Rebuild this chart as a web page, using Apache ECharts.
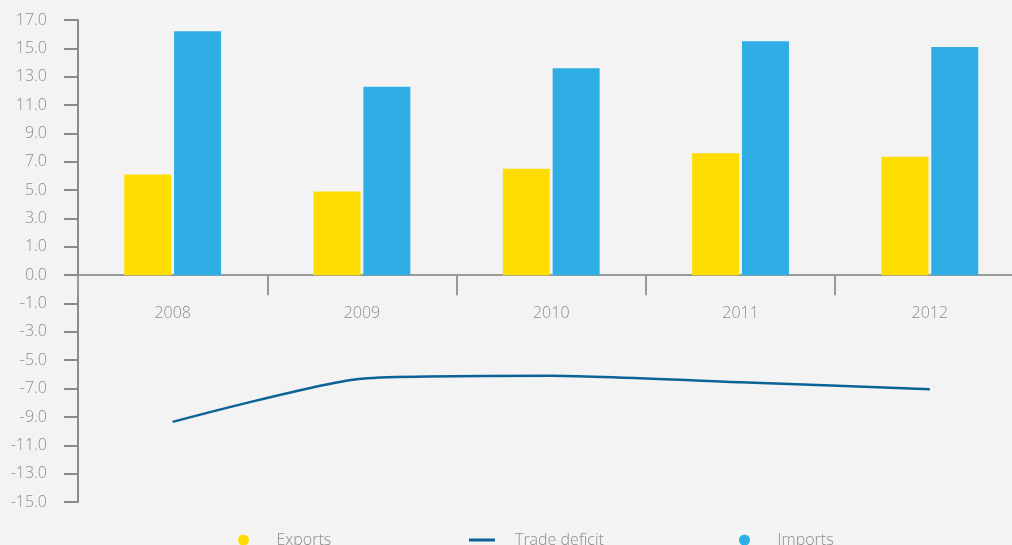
<!DOCTYPE html>
<html>
<head>
<meta charset="utf-8">
<script src="https://cdn.jsdelivr.net/npm/echarts@6/dist/echarts.min.js"></script>
<style>
html,body{margin:0;padding:0;background:#f3f3f3;overflow:hidden;width:1012px;height:545px;}
#c{width:1025px;height:545px;}
</style>
</head>
<body>
<div id="c"></div>
<script>
// Values as read against the printed tick labels
const years = ['2008', '2009', '2010', '2011', '2012'];
const exportsVals = [6.1, 4.9, 6.5, 7.6, 7.35];
const importsVals = [16.2, 12.3, 13.6, 15.5, 15.1];
const deficitVals = [-9.35, -6.3, -6.1, -6.55, -7.05];

// The printed labels skip a step around zero: 17,15,...,1,0,-1,...,-15 on an evenly spaced axis.
// Map a label-space value onto the evenly spaced axis.
function toAxis(v) {
  if (v >= 1) return v + 1;
  if (v <= -1) return v - 1;
  return v * 2;
}
function labelOf(v) {
  if (v > 0) return (v - 1).toFixed(1);
  if (v < 0) return (v + 1).toFixed(1);
  return '0.0';
}

const FONT = '"Open Sans", "Noto Sans", sans-serif';
const TXT = '#8c8c8c';
const AX = '#999999';
const Y_MIN = -16, Y_MAX = 18;
const GRID_TOP = 20, GRID_H = 482;
const zeroOffset = -GRID_H * (0 - Y_MIN) / (Y_MAX - Y_MIN);

const chart = echarts.init(document.getElementById('c'), null, {renderer: 'canvas'});

function legend(name, left, icon, w, h, color) {
  return {
    data: [{name: name, icon: icon, itemStyle: {color: color}}],
    left: left, top: 525,
    itemWidth: w, itemHeight: h,
    selectedMode: false,
    textStyle: {color: TXT, fontFamily: FONT, fontWeight: 300, fontSize: 16, lineHeight: 20, padding: [0, 0, 0, 15]}
  };
}

chart.setOption({
  backgroundColor: '#f3f3f3',
  animation: false,
  grid: {left: 78, top: GRID_TOP, width: 946.5, height: GRID_H, containLabel: false},
  legend: [
    legend('Exports', 233, 'circle', 26, 11, '#ffdd00'),
    legend('Trade deficit', 464, 'rect', 26, 3, '#0b6297'),
    legend('Imports', 734, 'circle', 26, 11, '#2eaee5')
  ],
  xAxis: {
    type: 'category',
    data: years,
    boundaryGap: true,
    position: 'bottom',
    offset: zeroOffset,
    axisLine: {onZero: false, lineStyle: {color: AX, width: 2}},
    axisTick: {show: true, length: 20, alignWithLabel: false, lineStyle: {color: AX, width: 2}},
    axisLabel: {color: TXT, fontFamily: FONT, fontWeight: 300, fontSize: 16, margin: 30}
  },
  yAxis: {
    type: 'value',
    min: Y_MIN, max: Y_MAX, interval: 2,
    splitLine: {show: false},
    axisLine: {show: true, lineStyle: {color: '#8a8a8a', width: 2}},
    axisTick: {show: true, length: 14, lineStyle: {color: '#8a8a8a', width: 2}},
    axisLabel: {color: TXT, fontFamily: FONT, fontWeight: 300, fontSize: 16, margin: 31, formatter: labelOf}
  },
  series: [
    {
      name: 'Exports', type: 'bar',
      data: exportsVals.map(toAxis),
      barWidth: 47, barGap: '6%',
      itemStyle: {color: '#ffdd00'}
    },
    {
      name: 'Imports', type: 'bar',
      data: importsVals.map(toAxis),
      barWidth: 47, barGap: '6%',
      itemStyle: {color: '#2eaee5'}
    },
    {
      name: 'Trade deficit', type: 'line',
      data: deficitVals.map(toAxis),
      smooth: 0.2,
      showSymbol: false, symbol: 'none',
      lineStyle: {color: '#0b6297', width: 2.5},
      itemStyle: {color: '#0b6297'},
      z: 5
    }
  ]
});
</script>
</body>
</html>
